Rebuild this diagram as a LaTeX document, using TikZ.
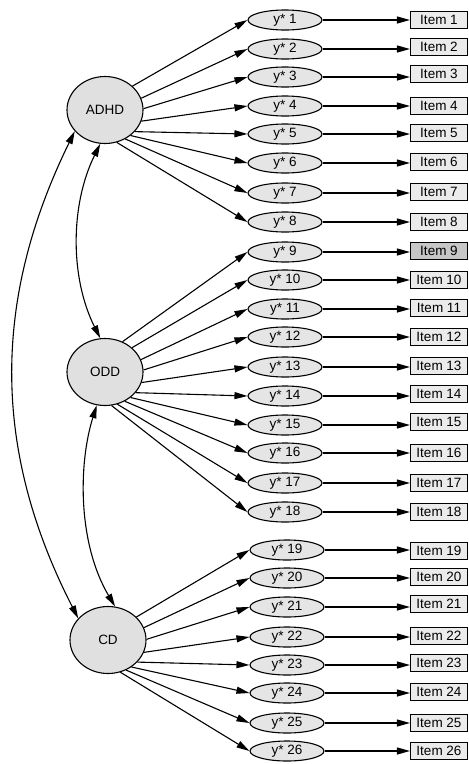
\documentclass[tikz,border=0pt]{standalone}
\usepackage{fontspec}
\setmainfont{Liberation Sans}
\usetikzlibrary{arrows.meta,shapes.geometric,calc}
\begin{document}
\begin{tikzpicture}[x=1pt,y=-1pt,
  every node/.style={font=\fontsize{13.5}{15}\selectfont},
  latent/.style={ellipse,draw,line width=1.1pt,fill=black!12,minimum width=76pt,minimum height=67pt,inner sep=0pt},
  ystar/.style={ellipse,draw,line width=1.1pt,fill=black!10,minimum width=74pt,minimum height=20pt,inner sep=0pt},
  itembox/.style={rectangle,draw,line width=1.1pt,fill=black!8,minimum width=57pt,minimum height=17pt,inner sep=0pt},
  arr/.style={line width=1.1pt,-{Triangle[length=13pt,width=7pt]}},
  darr/.style={line width=1.1pt,{Triangle[length=13pt,width=7pt]}-{Triangle[length=13pt,width=7pt]}}]
\useasboundingbox (0,0) rectangle (469,764);

\node[latent] (ADHD) at (105,110) {ADHD};
\node[latent] (ODD) at (105,372) {ODD};
\node[latent] (CD) at (108,640) {CD};

% rows: index / ellipse y / item y / ellipse x
\foreach \i/\ye/\yi/\xe in {1/20/20/285,2/49/47/285,3/77/74/285,4/106/106/285,5/134/133/285,6/163/162/285,7/193/192/285,8/222/222/285,
  9/252/251/285,10/280/280/285,11/309/308/285,12/337/337/285,13/367/366/285,14/396/394/285,15/425/422/285,16/453/453/285,17/483/483/285,18/512/512/285,
  19/550/551/287,20/578/577/287,21/607/604/287,22/637/636/287,23/665/663/287,24/693/692/287,25/723/723/287,26/751/751/287}{
  \node[ystar] (y\i) at (\xe,\ye) {y* \i};
  \ifnum\i=9
    \node[itembox,fill=black!22] (it\i) at (439,\yi) {Item \i};
  \else
    \node[itembox] (it\i) at (439,\yi) {Item \i};
  \fi
  \draw[arr] (y\i.east) -- (y\i.east -| it\i.west);
}

% loadings
\foreach \i/\a in {1/41,2/18,3/2,4/-17,5/-36,6/-45,7/-55,8/-70}
  \draw[arr] (ADHD.\a) -- (y\i.west);
\foreach \i/\a in {9/60,10/42,11/19,12/3,13/-16,14/-34,15/-45,16/-56,17/-69,18/-79}
  \draw[arr] (ODD.\a) -- (y\i.west);
\foreach \i/\a in {19/39,20/19,21/1,22/-19,23/-37,24/-49,25/-59,26/-69}
  \draw[arr] (CD.\a) -- (y\i.west);

% correlations
\draw[darr] (ADHD.215) .. controls (-8,300) and (-8,450) .. (CD.144);
\draw[darr] (ADHD.262) .. controls (70,205) and (70,278) .. (ODD.98);
\draw[darr] (ODD.256) .. controls (78,465) and (78,544) .. (CD.78);
\end{tikzpicture}
\end{document}
